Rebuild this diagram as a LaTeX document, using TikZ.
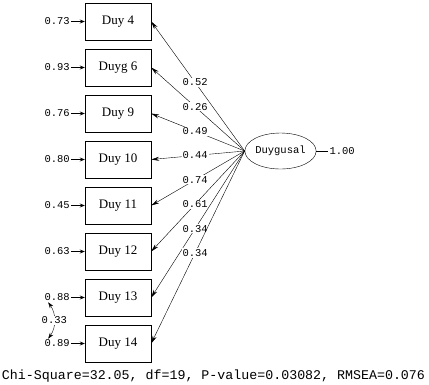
\documentclass[tikz,border=0pt]{standalone}
\usepackage{fontspec}
\setmainfont{Liberation Serif}
\setmonofont{Liberation Mono}
\usetikzlibrary{arrows.meta,positioning,shapes.geometric}

\begin{document}
\begin{tikzpicture}[x=1pt,y=-1pt,
    indbox/.style={draw,minimum width=66pt,minimum height=37pt,inner sep=0pt,
        font=\fontsize{13}{13}\selectfont},
    numlbl/.style={font=\ttfamily\fontsize{10.5}{11}\selectfont,inner sep=1pt},
    errarrow/.style={-{Stealth[length=5pt,width=4pt]},thick},
    loadarrow/.style={-{Stealth[length=8pt,width=4pt]}},
    latent/.style={ellipse,draw,minimum width=67pt,minimum height=36pt,inner sep=0pt,
        font=\ttfamily\fontsize{10.5}{11}\selectfont}]
    \useasboundingbox (0,0) rectangle (429,384);

    % Latent factor
    \node[latent] (duy) at (280.5,151) {Duygusal};
    \node[numlbl,right=12pt of duy] (var) {1.00};
    \draw (duy) -- (var);

    % Indicators, errors and loadings
    \foreach \n/\txt/\err/\lam [count=\i from 0] in {
        4/Duy 4/0.73/0.52, 6/Duyg 6/0.93/0.26, 9/Duy 9/0.76/0.49,
        10/Duy 10/0.80/0.44, 11/Duy 11/0.45/0.74, 12/Duy 12/0.63/0.61,
        13/Duy 13/0.88/0.34, 14/Duy 14/0.89/0.34} {
        \node[indbox] (b\n) at (118, 21.5+46*\i) {\txt};
        \node[numlbl,anchor=east] (e\n) at (71, 21.5+46*\i) {\err};
        \draw[errarrow] (e\n) -- (b\n);
        \draw[loadarrow] (duy.west) -- node[pos=0.53,numlbl,fill=white] {\lam} (b\n.east);
    }

    % Error covariance
    \draw[{Stealth[length=6pt,width=4pt]}-{Stealth[length=6pt,width=4pt]}]
        ([xshift=-9pt]e13.south) to[bend left=35]
        node[numlbl,fill=white] (cov) {0.33} ([xshift=-9pt]e14.north);

    % Fit statistics
    \node[font=\ttfamily\fontsize{13.3}{14}\selectfont,inner sep=0pt] (fit) at (213.5,376)
        {Chi-Square=32.05, df=19, P-value=0.03082, RMSEA=0.076};
\end{tikzpicture}
\end{document}
